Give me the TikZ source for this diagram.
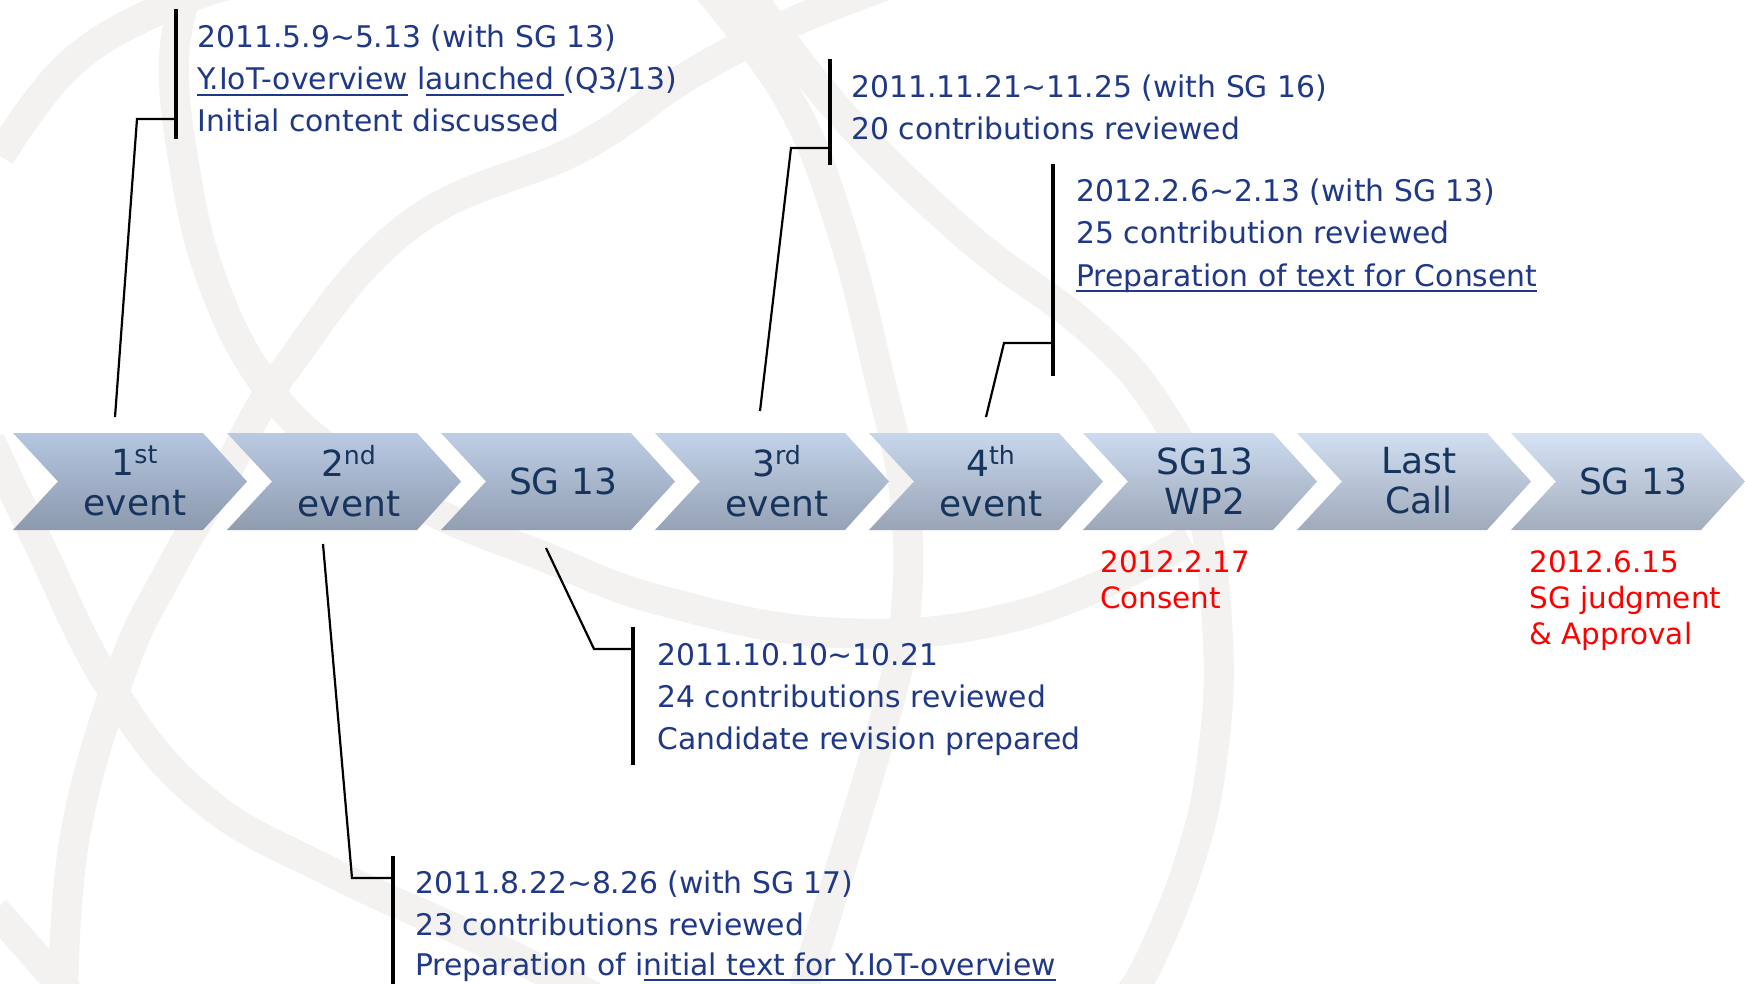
\documentclass[tikz,border=0pt]{standalone}
\usepackage{fontspec}
\setmainfont{DejaVu Sans}
\definecolor{navy}{RGB}{31,56,135}
\definecolor{chevtext}{RGB}{22,52,92}
\definecolor{bandgray}{RGB}{243,242,240}
\definecolor{chevTL}{RGB}{180,198,224}
\definecolor{chevBL}{RGB}{140,153,174}
\definecolor{chevTR}{RGB}{213,227,245}
\definecolor{chevBR}{RGB}{163,173,189}
% underline with a fixed offset and thickness
\newcommand\ulx[1]{\sbox0{#1}\rlap{\rule[-2.9pt]{\wd0}{0.9pt}}\usebox0}
\tikzset{
  band/.style={draw=bandgray, line width=15pt, line cap=butt},
  chevlabel/.style={text=chevtext, font=\fontsize{18}{20}\selectfont, align=center, inner sep=0pt},
  note/.style={text=navy, font=\fontsize{14.9}{21}\selectfont, anchor=base west, inner sep=0pt, yshift=-1pt},
  rednote/.style={text=red, font=\fontsize{14.7}{18}\selectfont, anchor=base west, inner sep=0pt},
  barline/.style={line width=1.7pt},
  leadline/.style={line width=1.1pt},
}
\begin{document}
\begin{tikzpicture}[x=0.5pt,y=-0.5pt]
\useasboundingbox (0,0) rectangle (1745,984);
\fill[white] (0,0) rectangle (1745,984);

% faint globe emblem in the background
\begin{scope}
\clip (0,0) rectangle (1745,984);
\draw[band] plot[smooth, tension=0.7] coordinates {(0,156) (67,67) (156,11) (245,-20)};
\draw[band] plot[smooth, tension=0.7] coordinates {(190,-20) (174,60) (185,170) (212,280) (262,380) (330,450) (430,510) (540,555) (663,601) (841,633) (1024,614) (1190,540)};
\draw[band] plot[smooth, tension=0.7] coordinates {(930,-30) (802,18) (691,74) (580,148) (410,225) (285,370) (222,480) (170,570) (122,670) (75,836) (63,1000)};
\draw[band] plot[smooth, tension=0.7] coordinates {(-10,440) (37,540) (111,688) (203,799) (333,873) (480,940) (600,1000)};
\draw[band] plot[smooth, tension=0.7] coordinates {(-5,910) (74,1000)};
\draw[band] plot[smooth, tension=0.7] coordinates {(700,-20) (787,96) (839,222) (880,380) (905,500) (905,620) (883,725) (840,870) (800,1000)};
\draw[band] plot[smooth, tension=0.7] coordinates {(747,-10) (839,111) (968,237) (1090,330) (1160,410) (1200,500) (1218,640) (1212,760) (1190,860) (1150,960) (1125,1000)};
\end{scope}

% process chevrons
\foreach \lbl [count=\i from 0] in {{1\textsuperscript{st}\\event},{2\textsuperscript{nd}\\event},{SG 13},{3\textsuperscript{rd}\\event},{4\textsuperscript{th}\\event},{SG13\\WP2},{Last\\Call},{SG 13}} {
  \pgfmathsetmacro\xo{13+214*\i}
  \pgfmathsetmacro\pct{100*\i/7}
  \shade[top color=chevTR!\pct!chevTL, bottom color=chevBR!\pct!chevBL]
    (\xo,433) -- ({\xo+190},433) -- ({\xo+234},481.5) -- ({\xo+190},530)
    -- (\xo,530) -- ({\xo+45},481.5) -- cycle;
  \node[chevlabel] (c\i) at ({\xo+122},481) {\lbl};
}

% first event (top)
\coordinate (a1top) at (176,9);
\coordinate (a1bot) at (176,139);
\coordinate (a1k) at (137,119);
\coordinate (a1e) at (115,417);
\draw[barline] (a1top) -- (a1bot);
\draw[leadline] (a1e) -- (a1k) -- (a1k -| a1top);
\node[note] (t1a) at (197,46) {2011.5.9\char"007E 5.13 (with SG 13)};
\node[note] (t1b) at (197,88) {\ulx{Y.IoT-overview} l\ulx{aunched }(Q3/13)};
\node[note] (t1c) at (197,130) {Initial content discussed};

% second event (bottom)
\coordinate (a2top) at (393,856);
\coordinate (a2bot) at (393,990);
\coordinate (a2k) at (352,878);
\coordinate (a2e) at (323,544);
\draw[barline] (a2top) -- (a2bot);
\draw[leadline] (a2e) -- (a2k) -- (a2k -| a2top);
\node[note] (t2a) at (415,891) {2011.8.22\char"007E 8.26 (with SG 17)};
\node[note] (t2b) at (415,933) {23 contributions reviewed};
\node[note] (t2c) at (415,973) {Preparation of i\ulx{nitial text for Y.IoT-overview}};

% SG 13 meeting (bottom)
\coordinate (a3top) at (633,627);
\coordinate (a3bot) at (633,765);
\coordinate (a3k) at (594,649);
\coordinate (a3e) at (546,548);
\draw[barline] (a3top) -- (a3bot);
\draw[leadline] (a3e) -- (a3k) -- (a3k -| a3top);
\node[note] (t3a) at (657,663) {2011.10.10\char"007E 10.21};
\node[note] (t3b) at (657,705) {24 contributions reviewed};
\node[note] (t3c) at (657,747) {Candidate revision prepared};

% third event (top)
\coordinate (a4top) at (830,59);
\coordinate (a4bot) at (830,165);
\coordinate (a4k) at (791,148);
\coordinate (a4e) at (760,411);
\draw[barline] (a4top) -- (a4bot);
\draw[leadline] (a4e) -- (a4k) -- (a4k -| a4top);
\node[note] (t4a) at (851,96) {2011.11.21\char"007E 11.25 (with SG 16)};
\node[note] (t4b) at (851,138) {20 contributions reviewed};

% fourth event (top)
\coordinate (a5top) at (1053,164);
\coordinate (a5bot) at (1053,376);
\coordinate (a5k) at (1004,343);
\coordinate (a5e) at (986,417);
\draw[barline] (a5top) -- (a5bot);
\draw[leadline] (a5e) -- (a5k) -- (a5k -| a5top);
\node[note] (t5a) at (1076,200) {2012.2.6\char"007E 2.13 (with SG 13)};
\node[note] (t5b) at (1076,242) {25 contribution reviewed};
\node[note] (t5c) at (1076,284) {\ulx{Preparation of text for Consent}};

% milestones
\node[rednote] (m1a) at (1100,572) {2012.2.17};
\node[rednote] (m1b) at (1100,608) {Consent};
\node[rednote] (m2a) at (1529,572) {2012.6.15};
\node[rednote] (m2b) at (1529,608) {SG judgment};
\node[rednote] (m2c) at (1529,644) {\& Approval};
\end{tikzpicture}
\end{document}
